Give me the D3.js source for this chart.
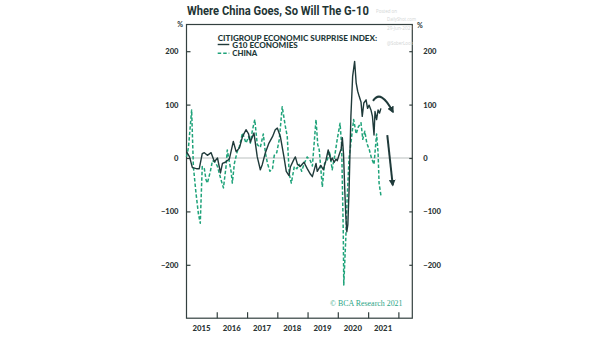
<!DOCTYPE html>
<html><head><meta charset="utf-8">
<script src="https://cdn.jsdelivr.net/npm/d3@7"></script>
<style>
html,body{margin:0;padding:0;background:#fff;}
svg{display:block;}
</style></head>
<body>
<svg id="chart" width="605" height="341"></svg>
<script>
// ---------- data ----------
const g10Dates = ["2015-01-01","2015-02-07","2015-03-13","2015-05-01","2015-06-04","2015-07-10","2015-08-04","2015-09-10","2015-10-25","2015-12-04",
"2016-01-10","2016-02-15","2016-03-10","2016-04-13","2016-06-01","2016-07-19","2016-08-22","2016-10-01","2016-11-07","2016-12-19",
"2017-01-19","2017-02-10","2017-03-25","2017-05-04","2017-06-10","2017-07-04","2017-08-10","2017-09-22","2017-11-04","2017-12-07",
"2018-01-01","2018-02-07","2018-03-22","2018-04-19","2018-05-22","2018-06-07","2018-07-19","2018-08-07","2018-09-01","2018-10-04","2018-11-19","2018-12-28",
"2019-02-04","2019-02-28","2019-04-13","2019-04-28","2019-06-10","2019-07-10","2019-08-10","2019-09-07","2019-10-10","2019-10-25","2019-11-19","2019-12-10","2019-12-25",
"2020-01-19","2020-02-10","2020-02-25","2020-03-10","2020-03-25","2020-04-07","2020-04-19","2020-05-01","2020-05-16","2020-06-07","2020-06-28","2020-07-22",
"2020-08-10","2020-08-28","2020-09-16","2020-10-07","2020-10-22","2020-11-10","2020-12-07","2020-12-25",
"2021-01-13","2021-02-04","2021-02-22","2021-03-13","2021-03-25","2021-04-13","2021-05-01","2021-05-19","2021-06-04"];
const g10Values = [12,2,-18,-20,-20,8,10,5,10,-7,
0,-28,-10,-8,-2,31,12,19,40,53,
45,30,47,2,-22,-12,10,28,40,53,
56,40,2,-25,-33,-17,-3,2,-12,-16,-8,-20,
-30,-35,-10,-25,-14,-22,-5,15,-5,0,-8,-2,-5,
7,17,38,8,-60,-110,-138,-125,-60,78,153,181,
140,125,115,105,78,103,109,93,
99,90,78,43,87,72,90,84,93];

const chinaDates = ["2015-01-01","2015-01-25","2015-03-04","2015-03-25","2015-04-25","2015-05-25","2015-06-16","2015-07-10","2015-08-04","2015-08-25","2015-09-10","2015-10-16","2015-11-10","2015-12-16",
"2016-01-10","2016-02-22","2016-03-22","2016-04-22","2016-05-07","2016-06-01","2016-06-22","2016-07-07","2016-08-01","2016-09-04","2016-10-01","2016-11-07","2016-12-19",
"2017-01-19","2017-02-10","2017-03-04","2017-04-04","2017-05-04","2017-06-10","2017-07-16","2017-08-10","2017-09-04","2017-10-04","2017-11-04","2017-11-25","2017-12-25",
"2018-01-25","2018-03-01","2018-04-07","2018-05-01","2018-05-25","2018-06-19","2018-07-25","2018-08-25","2018-09-22","2018-10-22","2018-11-22","2018-12-28",
"2019-02-04","2019-02-28","2019-04-13","2019-05-04","2019-05-22","2019-06-28","2019-07-25","2019-08-25","2019-09-25","2019-10-25","2019-12-01","2019-12-25",
"2020-01-28","2020-02-16","2020-02-25","2020-03-07","2020-03-13","2020-04-07","2020-04-22","2020-05-16","2020-06-07","2020-06-16","2020-07-10","2020-08-10","2020-09-04","2020-10-07","2020-10-28","2020-11-22","2020-12-16",
"2021-01-16","2021-02-10","2021-03-13","2021-04-13","2021-05-01","2021-05-13","2021-06-04"];
const chinaValues = [2,20,90,-16,-65,-105,-122,-16,-20,-41,-47,-25,-5,-8,
-16,-41,-56,-16,15,-7,-25,-47,-10,12,22,47,28,
40,28,50,72,25,20,45,10,-10,-25,-20,5,10,
35,96,60,40,-30,-47,-16,-20,-12,-25,-10,2,
-5,-15,72,25,15,-54,-10,-5,12,-22,10,35,
65,25,-47,-140,-238,-148,-78,0,28,40,72,45,58,66,35,50,28,
15,0,-12,45,10,-47,-70];

const yTicks = [200, 100, 0, -100, -200];
const yearTicks = ["2016","2017","2018","2019","2020","2021","2022"];
const yearLabels = ["2015","2016","2017","2018","2019","2020","2021"];
const seriesNames = ["G10 ECONOMIES", "CHINA"];
// annotation arrows (date, value) pairs
const curvedArrow = [["2021-03-01",107],["2021-06-05",130],["2021-10-28",86]];
const straightArrow = [["2021-08-20",43],["2021-10-25",-51]];

// ---------- layout ----------
const parse = d3.timeParse("%Y-%m-%d");
const svg = d3.select("#chart");
const L = 186.5, R = 412.3, T = 24.5, B = 318.2;
const dark = "#1f3a3a", green = "#1fa37a", frame = "#33403f";

const x = d3.scaleTime().domain([parse("2015-01-01"), parse("2022-06-18")]).range([L, R]);
const y = d3.scaleLinear().domain([-300, 250]).range([B, T]);

svg.append("rect").attr("width",605).attr("height",341).attr("fill","#fff");

// zero line
svg.append("line").attr("x1",L).attr("x2",R).attr("y1",y(0)).attr("y2",y(0))
  .attr("stroke","#b9bfbe").attr("stroke-width",1);

// frame
svg.append("rect").attr("x",L).attr("y",T).attr("width",R-L).attr("height",B-T)
  .attr("fill","none").attr("stroke",frame).attr("stroke-width",1.2);

// y axes
const yAxisL = svg.append("g").attr("transform",`translate(${L},0)`)
  .call(d3.axisLeft(y).tickValues(yTicks).tickSize(-4).tickPadding(8).tickFormat(d3.format("d")));
const yAxisR = svg.append("g").attr("transform",`translate(${R},0)`)
  .call(d3.axisRight(y).tickValues(yTicks).tickSize(-3).tickPadding(11).tickFormat(d3.format("d")));
[yAxisL, yAxisR].forEach(g => {
  g.select(".domain").remove();
  g.selectAll(".tick line").attr("stroke",frame).attr("stroke-width",1.2);
  g.selectAll(".tick text").attr("fill","#2b3535").attr("font-family","Lato, 'DejaVu Sans', sans-serif")
    .attr("font-weight","900").attr("font-size","7.6px");
});

// x axis ticks
const xAxis = svg.append("g").attr("transform",`translate(0,${B})`)
  .call(d3.axisBottom(x).tickValues(yearTicks.map(s=>parse(s+"-01-01"))).tickSize(-6).tickFormat(""));
xAxis.select(".domain").remove();
xAxis.selectAll(".tick line").attr("stroke",frame).attr("stroke-width",1.2);
svg.append("g").selectAll("text").data(yearLabels).join("text")
  .attr("x", d => x(parse(d+"-07-01")))
  .attr("y", 330.5)
  .attr("text-anchor","middle")
  .attr("fill","#2b3535").attr("font-family","Lato, 'DejaVu Sans', sans-serif")
  .attr("font-weight","900").attr("font-size","7.8px")
  .text(d => d);

// % labels
svg.append("text").attr("x",183).attr("y",27).attr("text-anchor","end").attr("fill","#2b3535")
  .attr("font-family","Lato, sans-serif").attr("font-weight","700").attr("font-size","7px").text("%");
svg.append("text").attr("x",417).attr("y",28).attr("fill","#2b3535")
  .attr("font-family","Lato, sans-serif").attr("font-weight","700").attr("font-size","7px").text("%");

// series
const line = d3.line().x(d => x(d[0])).y(d => y(d[1]));
const g10Data = g10Dates.map((d,i)=>[parse(d), g10Values[i]]);
const chinaData = chinaDates.map((d,i)=>[parse(d), chinaValues[i]]);

svg.append("path").datum(chinaData).attr("d", line).attr("fill","none")
  .attr("stroke",green).attr("stroke-width",1.5).attr("stroke-dasharray","3.5,2").attr("stroke-linejoin","round");
svg.append("path").datum(g10Data).attr("d", line).attr("fill","none")
  .attr("stroke",dark).attr("stroke-width",1.4).attr("stroke-linejoin","round");

// arrows
const defs = svg.append("defs");
defs.append("marker").attr("id","ah").attr("viewBox","0 0 10 10").attr("refX",8).attr("refY",5)
  .attr("markerWidth",3.4).attr("markerHeight",3.4).attr("orient","auto").attr("markerUnits","strokeWidth")
  .append("path").attr("d","M0,0 L10,5 L0,10 z").attr("fill",dark);
const cp = curvedArrow.map(p=>[x(parse(p[0])), y(p[1])]);
svg.append("path").attr("d", `M${cp[0][0]},${cp[0][1]} Q${cp[1][0]},${cp[1][1]} ${cp[2][0]},${cp[2][1]}`)
  .attr("fill","none").attr("stroke",dark).attr("stroke-width",2).attr("marker-end","url(#ah)");
const sp = straightArrow.map(p=>[x(parse(p[0])), y(p[1])]);
svg.append("line").attr("x1",sp[0][0]).attr("y1",sp[0][1]).attr("x2",sp[1][0]).attr("y2",sp[1][1])
  .attr("stroke",dark).attr("stroke-width",2).attr("marker-end","url(#ah)");

// title (condensed horizontally to the reference width via a scale transform)
const title = svg.append("text").attr("x",0).attr("y",0).attr("fill","#1f3535")
  .attr("font-family","Roboto, 'Open Sans', sans-serif").attr("font-weight","700").attr("font-size","12.5px")
  .text("Where China Goes, So Will The G-10");
const tw = title.node().getComputedTextLength();
title.attr("transform", `translate(187,14.5) scale(${182/tw},1)`);

// watermark
const wm = svg.append("g").attr("fill","#d2d5d5").attr("font-family","'Open Sans', sans-serif").attr("font-size","4.5px");
wm.append("text").attr("x",376).attr("y",13).text("Posted on");
wm.append("text").attr("x",387).attr("y",20.5).attr("font-size","5.5px").attr("textLength",29).attr("lengthAdjust","spacingAndGlyphs").text("DailyShot.com");
wm.append("text").attr("x",387).attr("y",30).attr("font-size","4.5px").attr("textLength",26).attr("lengthAdjust","spacingAndGlyphs").text("29-Jun-2021");
wm.append("text").attr("x",387).attr("y",45).attr("font-size","5.5px").attr("textLength",26).attr("lengthAdjust","spacingAndGlyphs").text("@SoberLook");

// legend
const lg = svg.append("g").attr("fill",dark).attr("font-family","Lato, 'DejaVu Sans', sans-serif").attr("font-weight","900").attr("font-size","7.2px");
lg.append("text").attr("x",217.7).attr("y",40.6).attr("textLength",159.5).attr("lengthAdjust","spacingAndGlyphs")
  .text("CITIGROUP ECONOMIC SURPRISE INDEX:");
lg.append("text").attr("x",232.3).attr("y",48.3).attr("textLength",65.5).attr("lengthAdjust","spacingAndGlyphs").text(seriesNames[0]);
lg.append("text").attr("x",232.3).attr("y",56).attr("textLength",25).attr("lengthAdjust","spacingAndGlyphs").text(seriesNames[1]);
svg.append("line").attr("x1",217.7).attr("x2",229.3).attr("y1",44.5).attr("y2",44.5).attr("stroke",dark).attr("stroke-width",1.4);
svg.append("line").attr("x1",217.7).attr("x2",229.3).attr("y1",53.3).attr("y2",53.3).attr("stroke",green).attr("stroke-width",1.5).attr("stroke-dasharray","3.5,2");

// copyright
svg.append("text").attr("x",330).attr("y",306).attr("fill","#2aa587")
  .attr("font-family","'Liberation Serif', serif").attr("font-size","8px")
  .attr("textLength",72.5).attr("lengthAdjust","spacingAndGlyphs")
  .text("© BCA Research 2021");
</script>
</body></html>
